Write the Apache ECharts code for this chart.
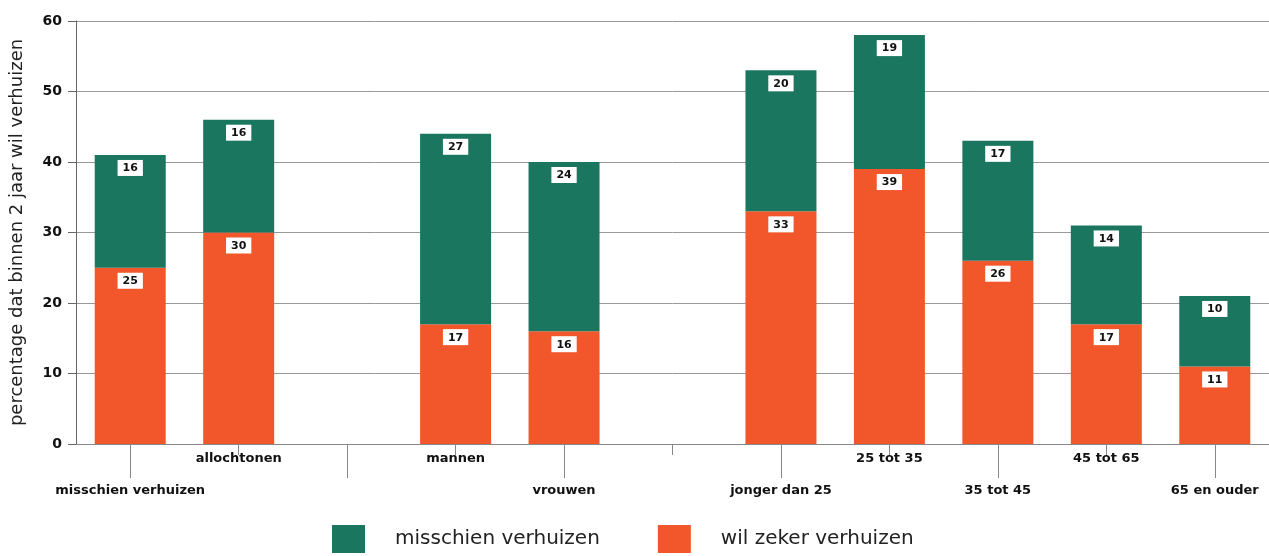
<!DOCTYPE html>
<html>
<head>
<meta charset="utf-8">
<script src="https://cdn.jsdelivr.net/npm/echarts@6/dist/echarts.min.js"></script>
<style>
  html, body { margin: 0; padding: 0; background: #fff; }
  #chart { width: 1269px; height: 556px; }
</style>
</head>
<body>
<div id="chart"></div>
<script>
// categorieen (lege plekken zijn de witruimtes tussen de groepen)
const categories = ['misschien verhuizen', 'allochtonen', '', 'mannen', 'vrouwen', '',
  'jonger dan 25', '25 tot 35', '35 tot 45', '45 tot 65', '65 en ouder'];
const zeker = [25, 30, null, 17, 16, null, 33, 39, 26, 17, 11];
const misschien = [16, 16, null, 27, 24, null, 20, 19, 17, 14, 10];
const yTicks = [0, 10, 20, 30, 40, 50, 60];

const groen = '#1a765e';
const oranje = '#f2572b';

const chart = echarts.init(document.getElementById('chart'));

// waardelabels: wit blokje met zwarte cijfers bovenin elk segment
const valueLabel = {
  show: true,
  position: 'insideTop',
  distance: 5,
  backgroundColor: '#fff',
  padding: [3, 5, 2, 5],
  color: '#111',
  fontFamily: 'DejaVu Sans',
  fontWeight: 'bold',
  fontSize: 11
};

const axisFont = { fontFamily: 'DejaVu Sans', fontWeight: 'bold', fontSize: 13, color: '#111' };

const option = {
  animation: false,
  grid: { left: 76, right: 0, top: 21, bottom: 112 },
  legend: {
    bottom: -2,
    left: 327,
    icon: 'rect',
    itemWidth: 33,
    itemHeight: 28,
    itemGap: 58,
    data: ['misschien verhuizen', 'wil zeker verhuizen'],
    textStyle: { fontFamily: 'DejaVu Sans', fontSize: 20, color: '#222', padding: [0, 0, 0, 25] }
  },
  xAxis: [
    {
      // bovenste rij labels, korte streepjes
      type: 'category',
      data: categories,
      position: 'bottom',
      axisLine: { show: true, lineStyle: { color: '#888', width: 1 } },
      axisTick: { show: true, alignWithLabel: true, length: 11, interval: (i) => i % 2 === 1, lineStyle: { color: '#888' } },
      axisLabel: Object.assign({ interval: (i) => i % 2 === 1, margin: 8 }, axisFont),
      splitLine: { show: false }
    },
    {
      // onderste rij labels, lange streepjes
      type: 'category',
      data: categories,
      position: 'bottom',
      axisLine: { show: false },
      axisTick: { show: true, alignWithLabel: true, length: 34, interval: (i) => i % 2 === 0, lineStyle: { color: '#888' } },
      axisLabel: Object.assign({ interval: (i) => i % 2 === 0, margin: 40 }, axisFont),
      splitLine: { show: false }
    }
  ],
  yAxis: {
    type: 'value',
    min: yTicks[0],
    max: yTicks[yTicks.length - 1],
    interval: 10,
    name: 'percentage dat binnen 2 jaar wil verhuizen',
    nameLocation: 'middle',
    nameGap: 50,
    nameTextStyle: { fontFamily: 'DejaVu Sans', fontSize: 18, color: '#222' },
    axisLine: { show: true, lineStyle: { color: '#666' } },
    axisTick: { show: true, length: 8, lineStyle: { color: '#666' } },
    axisLabel: { fontFamily: 'DejaVu Sans', fontWeight: 'bold', fontSize: 14, color: '#111', margin: 14 },
    splitLine: { show: true, lineStyle: { color: '#999', width: 1 } }
  },
  series: [
    {
      name: 'wil zeker verhuizen',
      type: 'bar',
      stack: 'tot',
      barWidth: 71,
      data: zeker,
      itemStyle: { color: oranje },
      label: valueLabel
    },
    {
      name: 'misschien verhuizen',
      type: 'bar',
      stack: 'tot',
      barWidth: 71,
      data: misschien,
      itemStyle: { color: groen },
      label: valueLabel
    }
  ]
};

chart.setOption(option);
</script>
</body>
</html>
